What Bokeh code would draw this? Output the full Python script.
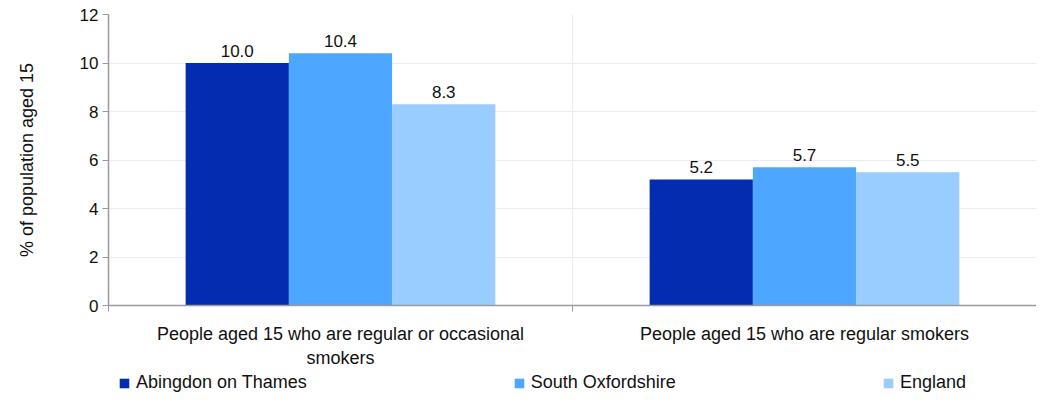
from bokeh.plotting import figure
from bokeh.layouts import column
from bokeh.models import ColumnDataSource, FixedTicker, Range1d, Legend, LegendItem, LabelSet
from bokeh.core.properties import value
from bokeh.embed import file_html
from bokeh.resources import INLINE

categories = ["People aged 15 who are regular or occasional\nsmokers",
              "People aged 15 who are regular smokers"]
series = ["Abingdon on Thames", "South Oxfordshire", "England"]
abingdon = [10.0, 5.2]
south_oxfordshire = [10.4, 5.7]
england = [8.3, 5.5]
colors = ["#032DB0", "#4DA6FF", "#99CCFF"]
y_ticks = [0, 2, 4, 6, 8, 10, 12]

FONT = "Liberation Sans"
TXT = "#111111"
bar_w = 0.2225

p = figure(width=1036, height=370, x_range=Range1d(0, len(categories)), y_range=Range1d(0, 12),
           output_backend="svg", toolbar_location=None,
           min_border_left=108, min_border_right=0, min_border_top=14, min_border_bottom=62)
p.outline_line_color = None

# separate strip for the legend, below the chart
leg = figure(width=1036, height=26, x_range=Range1d(0, 1), y_range=Range1d(0, 1),
             output_backend="svg", toolbar_location=None,
             x_axis_location=None, y_axis_location=None, min_border=0)
leg.outline_line_color = None
leg.xgrid.visible = False
leg.ygrid.visible = False

items = []
for j, (name, vals) in enumerate(zip(series, [abingdon, south_oxfordshire, england])):
    xs = [i + 0.5 + (j - 1) * bar_w for i in range(len(categories))]
    src = ColumnDataSource(dict(x=xs, top=vals, lab=["%.1f" % v for v in vals]))
    p.vbar(x="x", top="top", width=bar_w, source=src, fill_color=colors[j], line_color=None)
    labels = LabelSet(x="x", y="top", text="lab", source=src, text_align="center",
                      text_baseline="bottom", y_offset=6, text_font=value(FONT),
                      text_font_size="17px", text_color=TXT)
    p.add_layout(labels)
    # legend swatch renderer (zero-height bar, only used for the legend glyph)
    lr = leg.vbar(x=[0], bottom=[0], top=[0], width=0.01, fill_color=colors[j], line_color=None)
    items.append(LegendItem(label=name, renderers=[lr]))

# axes
p.xaxis.ticker = FixedTicker(ticks=[i + 0.5 for i in range(len(categories))],
                             minor_ticks=list(range(len(categories) + 1)))
p.xaxis.major_label_overrides = {i + 0.5: c for i, c in enumerate(categories)}
p.xaxis.major_tick_out = 0
p.xaxis.major_tick_in = 0
p.xaxis.minor_tick_out = 6
p.xaxis.minor_tick_in = 0
p.xaxis.major_label_standoff = 12
p.xaxis.major_label_text_font = FONT
p.xaxis.major_label_text_font_size = "18px"
p.xaxis.major_label_text_color = TXT

p.yaxis.ticker = FixedTicker(ticks=y_ticks)
p.yaxis.major_tick_out = 6
p.yaxis.major_tick_in = 0
p.yaxis.minor_tick_out = 0
p.yaxis.minor_tick_in = 0
p.yaxis.major_label_standoff = 4
p.yaxis.major_label_text_font = FONT
p.yaxis.major_label_text_font_size = "17px"
p.yaxis.major_label_text_color = TXT
p.yaxis.axis_label = "% of population aged 15"
p.yaxis.axis_label_text_font = FONT
p.yaxis.axis_label_text_font_size = "18px"
p.yaxis.axis_label_text_font_style = "normal"
p.yaxis.axis_label_text_color = TXT
p.yaxis.axis_label_standoff = 40

for ax in (p.xaxis, p.yaxis):
    ax.axis_line_color = "#9a9a9a"
    ax.axis_line_width = 1.5
    ax.major_tick_line_color = "#9a9a9a"
    ax.minor_tick_line_color = "#9a9a9a"

p.ygrid.ticker = FixedTicker(ticks=y_ticks)
p.ygrid.grid_line_color = "#ececec"
p.xgrid.ticker = FixedTicker(ticks=list(range(len(categories) + 1)))
p.xgrid.grid_line_color = "#ececec"

legend = Legend(items=items, orientation="horizontal", location=(10, 3),
                spacing=206, padding=0, margin=0, border_line_alpha=0,
                background_fill_alpha=0, glyph_width=12, glyph_height=12,
                label_standoff=6, label_text_font=FONT, label_text_font_size="18px",
                label_text_color=TXT)
leg.add_layout(legend, "center")

layout = column(p, leg)
open("out.html", "w").write(file_html(layout, INLINE))
